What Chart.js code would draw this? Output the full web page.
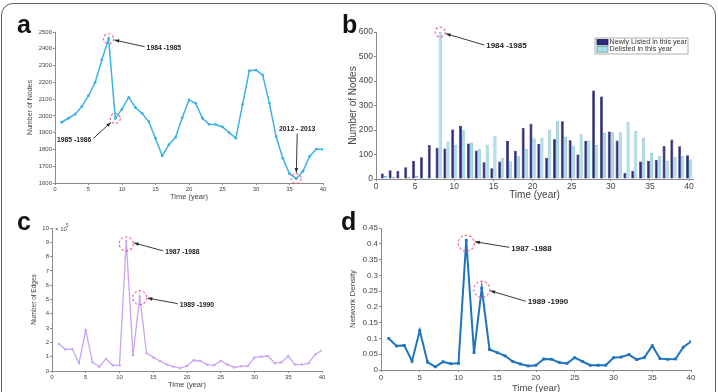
<!DOCTYPE html>
<html>
<head>
<meta charset="utf-8">
<script src="https://cdn.jsdelivr.net/npm/chart.js@4.4.0/dist/chart.umd.min.js"></script>
<style>
body { margin: 0; background: #fff; width: 718px; height: 392px; overflow: hidden; position: relative; font-family: "Liberation Sans", Arial, sans-serif; }
#frame { position: absolute; left: 1px; top: 3px; width: 713px; height: 430px; border: 1.5px solid #5f5f5f; border-radius: 12px; }
canvas { position: absolute; }
.tag { position: absolute; font-weight: bold; font-size: 25px; line-height: 25px; color: #111; }
</style>
</head>
<body>
<div id="frame"></div>
<canvas id="chartA" width="345" height="205" style="left:0;top:0"></canvas>
<canvas id="chartB" width="375" height="205" style="left:343px;top:0"></canvas>
<canvas id="chartC" width="345" height="192" style="left:0;top:200px"></canvas>
<canvas id="chartD" width="375" height="194" style="left:343px;top:200px"></canvas>
<div class="tag" style="left:17px;top:12px">a</div>
<div class="tag" style="left:342px;top:12px">b</div>
<div class="tag" style="left:17px;top:209px">c</div>
<div class="tag" style="left:341px;top:209px">d</div>
<script>
// time index (year 1..40)
const years = [1,2,3,4,5,6,7,8,9,10,11,12,13,14,15,16,17,18,19,20,
               21,22,23,24,25,26,27,28,29,30,31,32,33,34,35,36,37,38,39,40];

// a: number of nodes
const nodeCount = [1962,1986,2010,2055,2120,2200,2335,2460,1985,2040,
                   2110,2050,2015,1965,1867,1762,1828,1873,1990,2095,
                   2075,1986,1950,1948,1934,1900,1867,2069,2269,2273,
                   2243,2075,1877,1748,1655,1626,1670,1758,1802,1800];

// b: newly listed / delisted nodes per year
const newlyListed = [22,36,33,48,75,89,139,128,124,202,
                     217,145,116,68,44,71,155,115,209,226,
                     143,86,162,236,158,100,155,361,337,194,
                     157,25,34,71,75,78,135,161,134,97];
const delisted = [12,8,5,8,12,4,2,600,153,139,
                  199,149,121,140,176,86,71,93,121,165,
                  168,200,236,172,136,183,157,139,188,191,
                  191,233,196,168,105,94,72,90,94,79];

// c: number of edges (x 10^5)
const edgeCount = [1.9,1.5,1.55,0.55,2.85,0.6,0.3,0.85,0.4,0.4,
                   9.1,1.1,5.2,1.25,0.95,0.7,0.45,0.3,0.2,0.35,
                   0.75,0.7,0.45,0.4,0.7,0.45,0.25,0.33,0.35,0.95,
                   1.0,1.05,0.55,0.6,1.05,0.45,0.45,0.55,1.15,1.45];

// d: network density
const density = [0.1,0.076,0.078,0.028,0.125,0.025,0.01,0.026,0.02,0.021,
                 0.411,0.055,0.259,0.065,0.055,0.045,0.027,0.019,0.013,0.015,
                 0.035,0.034,0.024,0.021,0.039,0.027,0.015,0.015,0.015,0.039,
                 0.041,0.049,0.033,0.04,0.077,0.036,0.034,0.035,0.072,0.09];

function pts(vals) {
    return years.map((x, i) => ({x: x, y: vals[i]}));
}

// draws the dashed circles, arrows and labels, plus the box legend of b
const notePlugin = {
    id: 'notes',
    afterDatasetsDraw(chart, args, opts) {
        const ctx = chart.ctx;
        ctx.save();
        (opts.items || []).forEach(n => {
            const el = chart.getDatasetMeta(n.ds || 0).data[n.i];
            const px = el.x, py = el.y;
            // dashed circle
            ctx.strokeStyle = '#ea5f96';
            ctx.lineWidth = 1.1;
            ctx.setLineDash([2.5, 2]);
            ctx.beginPath();
            ctx.arc(px, py + (n.cy || 0), n.r, 0, Math.PI * 2);
            ctx.stroke();
            ctx.setLineDash([]);
            // label
            const lx = px + n.dx, ly = py + n.dy;
            ctx.font = 'bold ' + n.size + 'px "Liberation Sans", Arial, sans-serif';
            ctx.fillStyle = '#222';
            ctx.textAlign = n.align;
            ctx.textBaseline = 'middle';
            ctx.fillText(n.text, lx, ly);
            // arrow
            let sx, sy;
            if (n.align === 'left') { sx = lx - 2; sy = ly - 1; }
            else if (n.align === 'right') { sx = lx + 2; sy = ly - 2; }
            else { sx = lx; sy = ly + 5; }
            const ang = Math.atan2(sy - py, sx - px);
            const ex = px + Math.cos(ang) * (n.r + 1), ey = py + Math.sin(ang) * (n.r + 1);
            ctx.strokeStyle = '#222';
            ctx.lineWidth = 0.9;
            ctx.beginPath();
            ctx.moveTo(sx, sy);
            ctx.lineTo(ex, ey);
            ctx.stroke();
            const a2 = Math.atan2(ey - sy, ex - sx);
            ctx.fillStyle = '#222';
            ctx.beginPath();
            ctx.moveTo(ex, ey);
            ctx.lineTo(ex - 5 * Math.cos(a2 - 0.35), ey - 5 * Math.sin(a2 - 0.35));
            ctx.lineTo(ex - 5 * Math.cos(a2 + 0.35), ey - 5 * Math.sin(a2 + 0.35));
            ctx.closePath();
            ctx.fill();
        });
        if (opts.boxLegend) {
            const area = chart.chartArea;
            const w = 93, h = 16;
            const bx = area.right - 5 - w, by = area.top + 6;
            ctx.fillStyle = '#fff';
            ctx.fillRect(bx, by, w, h);
            ctx.strokeStyle = '#9a9a9a';
            ctx.lineWidth = 0.8;
            ctx.strokeRect(bx, by, w, h);
            chart.data.datasets.forEach((ds, k) => {
                const ry = by + 4.2 + k * 7.2;
                ctx.fillStyle = ds.backgroundColor;
                ctx.fillRect(bx + 2, ry - 2.7, 11, 5.4);
                ctx.strokeStyle = ds.borderColor;
                ctx.strokeRect(bx + 2, ry - 2.7, 11, 5.4);
                ctx.fillStyle = '#333';
                ctx.font = '7.2px "Liberation Sans", Arial, sans-serif';
                ctx.textAlign = 'left';
                ctx.textBaseline = 'middle';
                ctx.fillText(ds.label, bx + 14.5, ry);
            });
        }
        if (opts.exponent) {
            const area = chart.chartArea;
            ctx.fillStyle = '#444';
            ctx.textAlign = 'left';
            ctx.textBaseline = 'middle';
            ctx.font = '6px "Liberation Sans", Arial, sans-serif';
            ctx.fillText('\u00d7 10', area.left + 3, area.top + 1);
            ctx.font = '4.5px "Liberation Sans", Arial, sans-serif';
            ctx.fillText(opts.exponent, area.left + 14, area.top - 2);
        }
        ctx.restore();
    }
};

function axes(cfg) {
    const fontFam = '"Liberation Sans", Arial, sans-serif';
    return {
        x: {
            type: 'linear', min: 0, max: cfg.xMax, offset: false,
            afterFit: s => { s.height = cfg.xH; },
            border: { color: '#8a8a8a', width: 1 },
            grid: { drawOnChartArea: false, tickLength: 2, color: '#8a8a8a', offset: false },
            ticks: { stepSize: 5, includeBounds: false, padding: 1, color: '#444', maxRotation: 0,
                     font: { size: cfg.tick, family: fontFam } },
            title: { display: true, text: 'Time (year)', color: '#444', padding: 0,
                     font: { size: cfg.xTitle, family: fontFam } }
        },
        y: {
            min: cfg.yMin, max: cfg.yMax,
            afterFit: s => { s.width = cfg.yW; },
            border: { color: '#8a8a8a', width: 1 },
            grid: { drawOnChartArea: false, tickLength: 2, color: '#8a8a8a' },
            ticks: { stepSize: cfg.yStep, padding: 1, color: '#444',
                     font: { size: cfg.tick, family: fontFam },
                     callback: cfg.yFmt || (v => v) },
            title: { display: true, text: cfg.yTitle, color: '#444', padding: 0,
                     font: { size: cfg.yTitleSize, family: fontFam } }
        }
    };
}

Chart.defaults.animation = false;
Chart.defaults.responsive = false;
Chart.defaults.plugins.legend.display = false;
Chart.defaults.plugins.tooltip.enabled = false;

// a
new Chart(document.getElementById('chartA'), {
    type: 'line',
    data: { datasets: [{
        data: pts(nodeCount), borderColor: '#3cb3e4', backgroundColor: '#3cb3e4',
        borderWidth: 1.5, pointRadius: 1.4, pointBorderWidth: 0, tension: 0
    }] },
    options: {
        layout: { padding: { left: 26, top: 32, right: 22, bottom: 4 } },
        scales: axes({ xMax: 40, xH: 18, yMin: 1600, yMax: 2500, yStep: 100, yW: 29,
                       tick: 6, xTitle: 7.5, yTitle: 'Number of Nodes', yTitleSize: 7 }),
        plugins: { notes: { items: [
            { i: 7, r: 5, dx: 38, dy: 9, text: '1984 -1985', align: 'left', size: 6.8 },
            { i: 8, r: 5, dx: -24, dy: 22, text: '1985 -1986', align: 'right', size: 6.8 },
            { i: 35, r: 5, dx: 1, dy: -50, text: '2012 - 2013', align: 'center', size: 6.8 }
        ] } }
    },
    plugins: [notePlugin]
});

// b
new Chart(document.getElementById('chartB'), {
    type: 'bar',
    data: { datasets: [
        { label: 'Newly Listed in this year', data: pts(newlyListed),
          backgroundColor: '#2c2b7e', borderColor: '#1b1a55', borderWidth: 0.6 },
        { label: 'Delisted in this year', data: pts(delisted),
          backgroundColor: '#a9e1ea', borderColor: '#5f98a6', borderWidth: 0.6 }
    ] },
    options: {
        datasets: { bar: { categoryPercentage: 0.8, barPercentage: 0.95 } },
        layout: { padding: { left: 4, top: 32, right: 25, bottom: 4 } },
        scales: axes({ xMax: 40.5, xH: 22, yMin: 0, yMax: 600, yStep: 100, yW: 29,
                       tick: 8.5, xTitle: 10, yTitle: 'Number of Nodes', yTitleSize: 10 }),
        plugins: { notes: { boxLegend: true, items: [
            { ds: 1, i: 7, r: 5, dx: 46, dy: 14, text: '1984 -1985', align: 'left', size: 8 }
        ] } }
    },
    plugins: [notePlugin]
});

// c
new Chart(document.getElementById('chartC'), {
    type: 'line',
    data: { datasets: [{
        data: pts(edgeCount), borderColor: '#caa4f3', backgroundColor: '#caa4f3',
        borderWidth: 1.3, pointRadius: 1.2, pointBorderWidth: 0, tension: 0
    }] },
    options: {
        layout: { padding: { left: 30, top: 28, right: 23, bottom: 3 } },
        scales: axes({ xMax: 40, xH: 18, yMin: 0, yMax: 10, yStep: 1, yW: 22,
                       tick: 6, xTitle: 7.5, yTitle: 'Number of Edges', yTitleSize: 6.5 }),
        plugins: { notes: { exponent: '5', items: [
            { i: 10, r: 7, cy: 3, dx: 39, dy: 11, text: '1987 -1988', align: 'left', size: 6.8 },
            { i: 12, r: 7, cy: 1, dx: 40, dy: 8, text: '1989 -1990', align: 'left', size: 6.8 }
        ] } }
    },
    plugins: [notePlugin]
});

// d
new Chart(document.getElementById('chartD'), {
    type: 'line',
    data: { datasets: [{
        data: pts(density), borderColor: '#1f74bd', backgroundColor: '#1f74bd',
        borderWidth: 2, pointRadius: 2, pointStyle: 'rect', pointBorderWidth: 0, tension: 0
    }] },
    options: {
        layout: { padding: { left: 5, top: 28, right: 27, bottom: 0 } },
        scales: axes({ xMax: 40, xH: 24, yMin: 0, yMax: 0.45, yStep: 0.05, yW: 33,
                       tick: 8, xTitle: 9.5, yTitle: 'Network Density', yTitleSize: 8,
                       yFmt: v => +v.toFixed(2) }),
        plugins: { notes: { items: [
            { i: 10, r: 8, cy: 3, dx: 45, dy: 8, text: '1987 -1988', align: 'left', size: 8 },
            { i: 12, r: 8, cy: 1, dx: 46, dy: 14, text: '1989 -1990', align: 'left', size: 8 }
        ] } }
    },
    plugins: [notePlugin]
});
</script>
</body>
</html>
